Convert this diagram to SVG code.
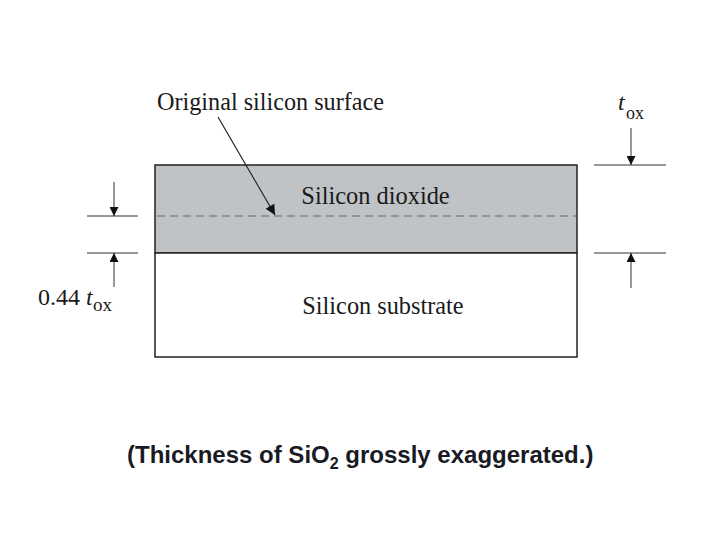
<svg xmlns="http://www.w3.org/2000/svg" width="720" height="540" viewBox="0 0 720 540">
<style>
.s{font-family:"Liberation Serif","Times New Roman",serif;fill:#1a1a1a}
.ln{stroke:#222;stroke-width:1.2;fill:none}
.dim{stroke:#333;stroke-width:1}
.cap{font-family:"Liberation Sans",Arial,sans-serif;font-weight:bold;font-size:24px;fill:#1a1a24}
</style>
<defs>
<marker id="ah" viewBox="0 0 10 10" refX="10" refY="5" markerWidth="10" markerHeight="9" markerUnits="userSpaceOnUse" orient="auto">
<path d="M0,0 L10,5 L0,10 z" fill="#111"/>
</marker>
<marker id="ah2" viewBox="0 0 10 10" refX="10" refY="5" markerWidth="12" markerHeight="10" markerUnits="userSpaceOnUse" orient="auto">
<path d="M0,0 L10,5 L0,10 z" fill="#111"/>
</marker>
</defs>
<rect width="720" height="540" fill="#fff"/>
<g id="oxide">
<rect x="155" y="165" width="422" height="88" fill="#c0c3c6" stroke="#222" stroke-width="1.5"/>
<text class="s" x="375.5" y="204" font-size="24.4" text-anchor="middle">Silicon dioxide</text>
</g>
<g id="substrate">
<rect x="155" y="253" width="422" height="104" fill="#fff" stroke="#222" stroke-width="1.5"/>
<text class="s" x="383" y="314" font-size="24.3" text-anchor="middle">Silicon substrate</text>
</g>
<g id="surface-label">
<text class="s" x="157" y="110" font-size="24.2">Original silicon surface</text>
</g>
<g id="tox-label">
<text class="s" x="618" y="110" font-size="24" font-style="italic">t</text>
<text class="s" x="626" y="119" font-size="18">ox</text>
</g>
<g id="044-label">
<text class="s" x="38" y="305" font-size="24">0.44 <tspan font-style="italic">t</tspan></text>
<text class="s" x="93" y="311" font-size="19">ox</text>
</g>
<g id="caption">
<text class="cap" x="127" y="463">(Thickness of SiO<tspan font-size="16" dy="6">2</tspan><tspan dy="-6"> grossly exaggerated.)</tspan></text>
</g>
<g id="connectors">
<line x1="157" y1="216" x2="577" y2="216" stroke="#666" stroke-width="1.2" stroke-dasharray="8,5"/>
<line class="ln" x1="218" y1="117" x2="275" y2="215" marker-end="url(#ah2)"/>
<line class="dim" x1="87" y1="216" x2="138" y2="216"/>
<line class="dim" x1="87" y1="253" x2="138" y2="253"/>
<line class="dim" x1="114" y1="182" x2="114" y2="216" marker-end="url(#ah)"/>
<line class="dim" x1="114" y1="287" x2="114" y2="253" marker-end="url(#ah)"/>
<line class="dim" x1="594" y1="165" x2="666" y2="165"/>
<line class="dim" x1="594" y1="253" x2="666" y2="253"/>
<line class="dim" x1="631" y1="128" x2="631" y2="165" marker-end="url(#ah)"/>
<line class="dim" x1="631" y1="288" x2="631" y2="253" marker-end="url(#ah)"/>
</g>
</svg>
